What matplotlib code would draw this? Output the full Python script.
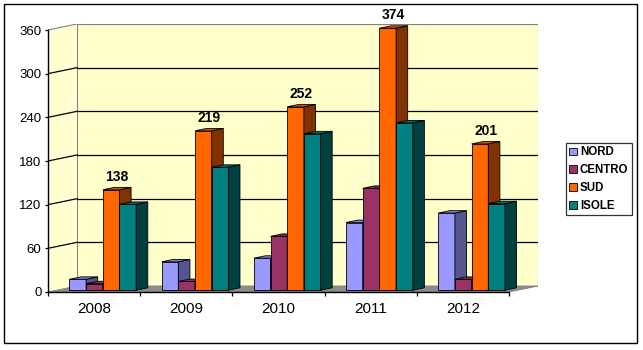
import matplotlib
matplotlib.use('Agg')
import matplotlib.pyplot as plt
from matplotlib.patches import Polygon, Rectangle, Patch
from matplotlib.font_manager import FontProperties

# ---------------- data ----------------
years = ['2008', '2009', '2010', '2011', '2012']
series = ['NORD', 'CENTRO', 'SUD', 'ISOLE']
nord = [15, 39, 44, 93, 106]
centro = [9, 12, 74, 140, 15]
sud = [138, 219, 252, 374, 201]
isole = [118, 169, 215, 230, 119]
y_ticks = [0, 60, 120, 180, 240, 300, 360]
labelled_series = 'SUD'

values = [nord, centro, sud, isole]
front_colors = ['#9999FF', '#993366', '#FF6600', '#008080']
side_colors = ['#55558F', '#4D1A33', '#803300', '#004040']
top_colors = ['#8282D9', '#822B57', '#D95700', '#006D6D']

plt.rcParams['font.family'] = ['Liberation Sans', 'DejaVu Sans']

W, H = 643, 350
fig = plt.figure(figsize=(W / 100, H / 100), dpi=100)

# layout in pixels
x0px, y0px = 48, 292          # front origin of the plot
cat_px = 92.2                  # width of one category
val_px = 262 / 360             # pixels per unit
depth_px = (29, 6)             # 3D depth offset
right_px, top_px = 538, 24

ax = fig.add_axes([x0px / W, (H - y0px) / H, (right_px - x0px) / W, (y0px - top_px) / H])
ax.set_xlim(0, (right_px - x0px) / cat_px)
ax.set_ylim(0, (y0px - top_px) / val_px)
ax.patch.set_visible(False)

n = len(years)
vmax = y_ticks[-1]
DX = depth_px[0] / cat_px
DY = depth_px[1] / val_px

wall = '#FFFFCC'
# back wall
ax.add_patch(Rectangle((DX, DY), n, vmax, fc=wall, ec='#808080', lw=0.8, zorder=0))
# left wall
ax.add_patch(Polygon([(0, 0), (DX, DY), (DX, vmax + DY), (0, vmax)], closed=True,
                     fc='#FFFFD2', ec='none', zorder=0))
ax.plot([0, DX], [vmax, vmax + DY], color='#808080', lw=0.8, zorder=1)
# floor
ax.add_patch(Polygon([(0, 0), (n, 0), (n + DX, DY), (DX, DY)], closed=True,
                     fc='#8C8C8C', ec='#808080', lw=0.6, zorder=0.5))
# gridlines
for t in y_ticks[1:-1]:
    ax.plot([DX, n + DX], [t + DY, t + DY], color='black', lw=0.9, zorder=1)
    ax.plot([0, DX], [t, t + DY], color='black', lw=0.9, zorder=1)

# bars
bw = 0.181
z0, dz = 0.3, 0.4
for i in range(n):
    for j in range(len(series)):
        val = values[j][i]
        v = min(val, vmax)
        xl = i + 0.5 - 2 * bw + j * bw + z0 * DX
        yb = z0 * DY
        ox, oy = dz * DX, dz * DY
        zo = 3 + i * 10 + j
        ax.add_patch(Rectangle((xl, yb), bw, v, fc=front_colors[j], ec='black', lw=0.6, zorder=zo))
        ax.add_patch(Polygon([(xl + bw, yb), (xl + bw + ox, yb + oy), (xl + bw + ox, yb + v + oy),
                              (xl + bw, yb + v)], closed=True, fc=side_colors[j], ec='black',
                             lw=0.6, zorder=zo))
        ax.add_patch(Polygon([(xl, yb + v), (xl + bw, yb + v), (xl + bw + ox, yb + v + oy),
                              (xl + ox, yb + v + oy)], closed=True, fc=top_colors[j], ec='black',
                             lw=0.6, zorder=zo))
        if series[j] == labelled_series:
            ax.annotate(str(val), xy=(xl + bw / 2 + ox / 2, yb + v + oy), xytext=(0, 2.5),
                        textcoords='offset points', ha='center', va='bottom',
                        fontsize=10, fontweight='bold', zorder=100, annotation_clip=False)

# axes
for s in ['top', 'right']:
    ax.spines[s].set_visible(False)
ax.spines['left'].set_bounds(0, vmax)
ax.spines['bottom'].set_bounds(0, n)
for s in ['left', 'bottom']:
    ax.spines[s].set_linewidth(1.0)
    ax.spines[s].set_zorder(90)
ax.set_yticks(y_ticks)
ax.set_yticklabels([str(t) for t in y_ticks])
ax.tick_params(axis='y', direction='out', length=2.2, width=0.9, pad=2.4, labelsize=9.5)
ax.set_xticks(range(n + 1))
ax.set_xticklabels([])
ax.set_xticks([i + 0.5 for i in range(n)], minor=True)
ax.set_xticklabels(years, minor=True, fontsize=11)
ax.tick_params(axis='x', which='major', direction='out', length=3, width=0.9)
ax.tick_params(axis='x', which='minor', length=0, pad=7)

# legend
handles = [Patch(fc=c, ec='black', lw=0.6) for c in front_colors]
leg = fig.legend(handles, series, loc='upper left', bbox_to_anchor=(566 / W, 1 - 143 / H),
                 frameon=True, fancybox=False, edgecolor='black',
                 prop=FontProperties(family=['Liberation Sans', 'DejaVu Sans'], weight='bold', size=8.3),
                 handlelength=0.65, handleheight=0.65, handletextpad=0.25, labelspacing=0.5,
                 borderpad=0.3, borderaxespad=0)
leg.get_frame().set_linewidth(0.9)

# outer border
fig.add_artist(Rectangle((4 / W, 7 / H), 633 / W, 339 / H, transform=fig.transFigure,
                         fill=False, ec='black', lw=1))

fig.savefig('out.png', dpi=100)
